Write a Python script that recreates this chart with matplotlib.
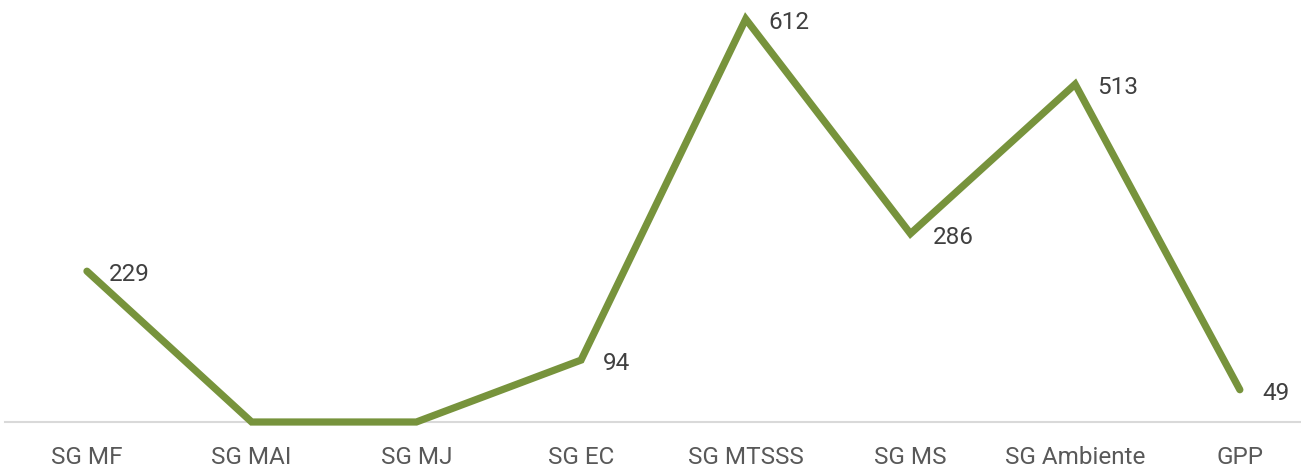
import matplotlib
matplotlib.use("Agg")
import matplotlib.pyplot as plt

categories = ["SG MF", "SG MAI", "SG MJ", "SG EC", "SG MTSSS", "SG MS", "SG Ambiente", "GPP"]
values = [229, 0, 0, 94, 612, 286, 513, 49]

plt.rcParams["font.family"] = ["Roboto", "DejaVu Sans"]

W, H = 1301, 473
fig = plt.figure(figsize=(W / 100, H / 100), dpi=100)

# plot area in pixels: slot width ~164.7 px, first slot starts at x=4.6
slot = 164.7
x0 = 4.6
y_base = 422.0
px_per_unit = 403.0 / 612.0
ymax = 640
ax = fig.add_axes([x0 / W, (H - y_base) / H, 8 * slot / W, ymax * px_per_unit / H])

xs = list(range(len(categories)))
line_color = "#77933C"
ax.plot(xs, values, color=line_color, lw=5.2, solid_joinstyle="miter",
        solid_capstyle="round", clip_on=False, zorder=3)

for x, v in zip(xs, values):
    if v:
        ax.annotate(str(v), (x, v), xytext=(16, -2.5), textcoords="offset points",
                    ha="left", va="center", fontsize=17.5, color="#404040")

ax.set_xlim(-0.5, len(categories) - 0.5)
ax.set_ylim(0, ymax)
ax.set_xticks(xs)
ax.set_xticklabels(categories, fontsize=17.5, color="#595959")
ax.tick_params(axis="x", length=0, pad=17.5)
ax.set_yticks([])
for s in ["top", "right", "left"]:
    ax.spines[s].set_visible(False)
ax.spines["bottom"].set_color("#D9D9D9")
ax.spines["bottom"].set_linewidth(1.5)
ax.patch.set_alpha(0)

fig.savefig("out.png", dpi=100, facecolor="white")
